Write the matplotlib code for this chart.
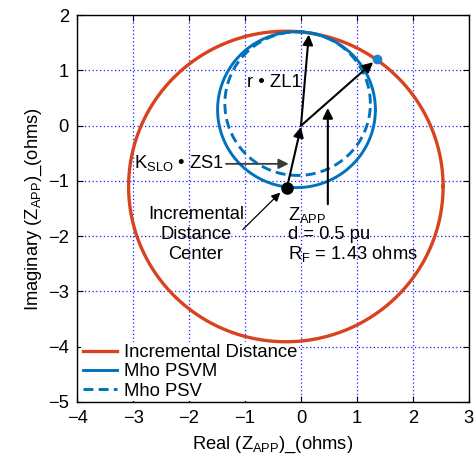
import numpy as np
import matplotlib
matplotlib.use("Agg")
import matplotlib.pyplot as plt

plt.rcParams['font.family'] = ['Liberation Sans', 'DejaVu Sans']
plt.rcParams['mathtext.fontset'] = 'custom'
plt.rcParams['mathtext.rm'] = 'Liberation Sans'
plt.rcParams['mathtext.it'] = 'Liberation Sans:italic'
plt.rcParams['mathtext.bf'] = 'Liberation Sans:bold'

# ---- data ----
circle_labels = ["Incremental Distance", "Mho PSVM", "Mho PSV"]
circle_cx = [-0.27, -0.08, -0.06]
circle_cy = [-1.10, 0.29, 0.40]
circle_r = [2.81, 1.41, 1.30]

center_point = [-0.25, -1.12]
zapp_point = [1.36, 1.21]

x_ticks = [-4, -3, -2, -1, 0, 1, 2, 3]
y_ticks = [-5, -4, -3, -2, -1, 0, 1, 2]

# arrows: (start_x, start_y, end_x, end_y)
arrow_rzl1 = [0.0, 0.0, 0.14, 1.65]
arrow_zapp = [0.0, 0.0, 1.29, 1.15]
arrow_ks = [-0.25, -1.12, 0.0, -0.02]
arrow_zapp_label = [0.48, -1.42, 0.48, 0.32]
arrow_kslo = [-1.34, -0.69, -0.22, -0.69]
arrow_center = [-1.04, -1.88, -0.37, -1.21]

RED = "#D9421E"
BLUE = "#0072BD"

fig = plt.figure(figsize=(4.76, 4.61), dpi=100)
ax = fig.add_axes([0.162, 0.128, 0.823, 0.839])

theta = np.linspace(0, 2 * np.pi, 721)
styles = [dict(color=RED, lw=2.4, ls='-'),
          dict(color=BLUE, lw=2.1, ls='-'),
          dict(color=BLUE, lw=2.1, ls=(0, (3.4, 1.8)))]
for lab, cx, cy, r, st in zip(circle_labels, circle_cx, circle_cy, circle_r, styles):
    ax.plot(cx + r * np.cos(theta), cy + r * np.sin(theta), label=lab, zorder=2, **st)

def arrow(a, color='black', lw=1.5, ms=15):
    ax.annotate("", xy=(a[2], a[3]), xytext=(a[0], a[1]),
                arrowprops=dict(arrowstyle='-|>', color=color, lw=lw,
                                shrinkA=0, shrinkB=0, mutation_scale=ms),
                zorder=4)

arrow(arrow_rzl1)
arrow(arrow_zapp)
arrow(arrow_ks)
arrow(arrow_zapp_label)
arrow(arrow_kslo, color='#3a3a3a', lw=1.3)
arrow(arrow_center, lw=0.9, ms=13)

ax.plot([center_point[0]], [center_point[1]], 'o', color='black', ms=8, zorder=5)
ax.plot([zapp_point[0]], [zapp_point[1]], 'o', color='#1a86cc', ms=6, zorder=5)

fs = 13.2
ax.text(-0.97, 0.78, "r • ZL1", fontsize=fs, va='center', ha='left')
ax.text(-1.37, -0.67, "K$_{\\mathrm{SLO}}$ • ZS1", fontsize=fs, va='center', ha='right')
ax.text(-1.875, -1.97, "Incremental\nDistance\nCenter", fontsize=fs, va='center',
        ha='center', multialignment='center', linespacing=1.2)
ax.text(-0.24, -1.62, "Z$_{\\mathrm{APP}}$", fontsize=fs, va='center', ha='left')
ax.text(-0.24, -1.97, "d = 0.5 pu", fontsize=fs, va='center', ha='left')
ax.text(-0.24, -2.33, "R$_{\\mathrm{F}}$ = 1.43 ohms", fontsize=fs, va='center', ha='left')

ax.set_xlim(-4, 3)
ax.set_ylim(-5, 2)
ax.set_xticks(x_ticks)
ax.set_yticks(y_ticks)
ax.tick_params(direction='in', top=True, right=True, length=4, labelsize=fs, pad=6)
ax.grid(True, color='#1a1aff', ls=(0, (1, 2)), lw=0.9)
ax.set_axisbelow(True)
for s in ax.spines.values():
    s.set_linewidth(1.0)

ax.set_xlabel("Real (Z$_{\\mathrm{APP}}$)_(ohms)", fontsize=fs, labelpad=5)
ax.set_ylabel("Imaginary (Z$_{\\mathrm{APP}}$)_(ohms)", fontsize=fs, labelpad=3)

leg = ax.legend(loc='lower left', bbox_to_anchor=(0.0, -0.008), frameon=True,
                fontsize=13.3, handlelength=1.85, handletextpad=0.4,
                labelspacing=0.12, borderpad=0.1, borderaxespad=0.2, fancybox=False)
leg.get_frame().set_edgecolor('none')
leg.get_frame().set_facecolor('white')
leg.get_frame().set_alpha(1.0)
leg.set_zorder(1.5)

fig.savefig("out.png", dpi=100)
